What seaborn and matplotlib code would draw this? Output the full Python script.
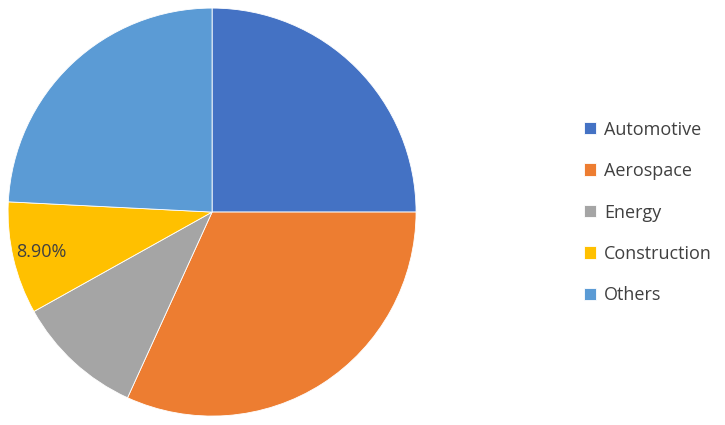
import matplotlib
matplotlib.use("Agg")
import matplotlib.pyplot as plt
import seaborn as sns

# data
sectors = ["Automotive", "Aerospace", "Energy", "Construction", "Others"]
shares = [25.0, 31.8, 10.1, 8.9, 24.2]
colors = ["#4472C4", "#ED7D31", "#A5A5A5", "#FFC000", "#5B9BD5"]
shown_label = "Construction"

sns.set_theme(style="white")
plt.rcParams["font.family"] = ["Open Sans", "DejaVu Sans"]

fig = plt.figure(figsize=(7.25, 4.25), dpi=100)
ax = fig.add_axes([0.011, 0.021, 0.563, 0.96])

def pct_label(p, _state={"i": 0}):
    i = _state["i"]
    _state["i"] += 1
    return f"{shares[i]:.2f}%" if sectors[i] == shown_label else ""

wedges, texts, autotexts = ax.pie(
    shares,
    colors=colors,
    startangle=90,
    counterclock=False,
    autopct=pct_label,
    pctdistance=0.86,
    wedgeprops=dict(edgecolor="white", linewidth=0.6),
    textprops=dict(fontsize=13, color="#404040"),
)
ax.set_aspect("equal")
ax.set_xlim(-1.0, 1.0)
ax.set_ylim(-1.0, 1.0)

leg = fig.legend(
    wedges, sectors,
    loc="center left",
    bbox_to_anchor=(0.783, 0.50),
    frameon=False,
    fontsize=13,
    handlelength=0.68,
    handleheight=0.68,
    handletextpad=0.42,
    labelspacing=1.3,
    labelcolor="#404040",
)

fig.savefig("out.png", dpi=100)
